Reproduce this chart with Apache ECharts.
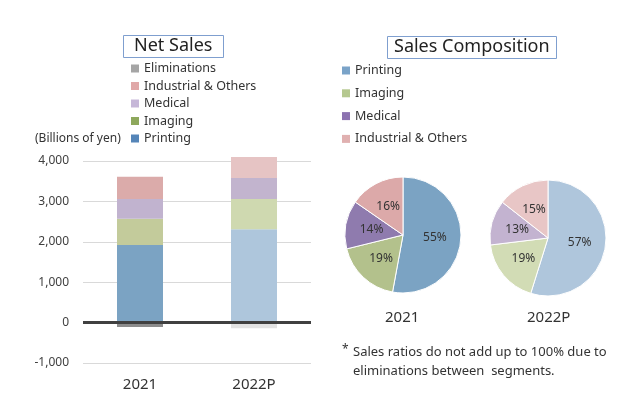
<!DOCTYPE html>
<html><head><meta charset="utf-8">
<script src="https://cdn.jsdelivr.net/npm/echarts@6/dist/echarts.min.js"></script>
<style>html,body{margin:0;padding:0;background:#fff}#c{width:640px;height:419px}</style>
</head><body><div id="c"></div>
<script>
var categories = ['2021', '2022P'];
var printing = [1920, 2310];
var imaging = [650, 750];
var medical = [490, 520];
var industrial = [550, 520];
var eliminations = [-110, -140];
var pieNames = ['Printing', 'Imaging', 'Medical', 'Industrial & Others'];
var pie2021 = [55, 19, 14, 16];
var pie2022 = [57, 19, 13, 15];
var yTicks = [-1000, 0, 1000, 2000, 3000, 4000];

var FONT = 'Noto Sans';
var barColors = {
  'Printing': ['#7BA3C3', '#AEC6DC'],
  'Imaging': ['#C3CB9B', '#CFD9B0'],
  'Medical': ['#C1B3CF', '#C2B4CE'],
  'Industrial & Others': ['#DBABAA', '#E6C4C4'],
  'Eliminations': ['#8C8C8C', '#E2E2E2']
};
var legendBarColors = {
  'Eliminations': '#A5A5A5', 'Industrial & Others': '#E0A8A8', 'Medical': '#C6B7D8',
  'Imaging': '#8EA85C', 'Printing': '#5585B8'
};
var pieColors2021 = ['#7BA3C3', '#B3C18C', '#8F7BAE', '#DCA9A9'];
var pieColors2022 = ['#AFC6DC', '#D2DCB5', '#C3B3D0', '#E8C6C6'];
var legendPieColors = ['#7AA3C8', '#B5C88F', '#8C72B0', '#E0B0B0'];

function barSeries(name, vals) {
  return {
    name: name, type: 'bar', stack: 'total', barWidth: 46, clip: false,
    itemStyle: { color: legendBarColors[name] },
    data: vals.map(function (v, i) { return { value: v, itemStyle: { color: barColors[name][i] } }; })
  };
}
function pieSeries(vals, colors, center) {
  return {
    type: 'pie', center: center, radius: 58, startAngle: 90, clockwise: true,
    avoidLabelOverlap: false,
    itemStyle: { borderColor: '#fff', borderWidth: 1 },
    label: { position: 'inside', formatter: '{c}%', fontFamily: FONT, fontSize: 12, color: '#333' },
    labelLine: { show: false },
    emphasis: { disabled: true },
    data: vals.map(function (v, i) { return { name: pieNames[i], value: v, itemStyle: { color: colors[i] } }; })
  };
}

var series = [
  barSeries('Printing', printing),
  barSeries('Imaging', imaging),
  barSeries('Medical', medical),
  barSeries('Industrial & Others', industrial),
  barSeries('Eliminations', eliminations),
  pieSeries(pie2021, pieColors2021, [403, 235]),
  pieSeries(pie2022, pieColors2022, [548, 238])
];
series[0].markLine = {
  silent: true, symbol: 'none', label: { show: false },
  lineStyle: { color: '#404040', width: 3, type: 'solid' },
  data: [{ yAxis: 0 }]
};

var chart = echarts.init(document.getElementById('c'), null, { renderer: 'canvas' });
chart.setOption({
  animation: false,
  backgroundColor: '#fff',
  title: [
    { text: 'Net Sales', left: 123, top: 35, padding: [2, 11, 3, 11], borderColor: '#7F9FCF', borderWidth: 1,
      textStyle: { fontFamily: FONT, fontSize: 18, fontWeight: 'normal', color: '#222' } },
    { text: 'Sales Composition', left: 387, top: 36, padding: [2, 7, 3, 7], borderColor: '#7F9FCF', borderWidth: 1,
      textStyle: { fontFamily: FONT, fontSize: 18, fontWeight: 'normal', color: '#222' } }
  ],
  legend: [
    { orient: 'vertical', left: 131, top: 62, padding: 0, itemWidth: 8, itemHeight: 8, itemGap: 4.5, icon: 'rect', selectedMode: false,
      textStyle: { fontFamily: FONT, fontSize: 12.5, color: '#333' },
      data: ['Eliminations', 'Industrial & Others', 'Medical', 'Imaging', 'Printing'].map(function (n) {
        return { name: n, itemStyle: { color: legendBarColors[n] } };
      }) },
    { orient: 'vertical', left: 342, top: 64, padding: 0, itemWidth: 8, itemHeight: 8, itemGap: 9.8, icon: 'rect', selectedMode: false,
      textStyle: { fontFamily: FONT, fontSize: 12.5, color: '#333' },
      data: pieNames.map(function (n, i) { return { name: n, itemStyle: { color: legendPieColors[i] } }; }) }
  ],
  grid: { left: 83, right: 329, top: 161, bottom: 56 },
  xAxis: {
    type: 'category', data: categories,
    axisLine: { show: false }, axisTick: { show: false },
    axisLabel: { margin: 14, fontFamily: FONT, fontSize: 15, color: '#333' }
  },
  yAxis: {
    type: 'value', min: yTicks[0], max: yTicks[yTicks.length - 1], interval: 1000,
    axisLine: { show: false }, axisTick: { show: false },
    axisLabel: { margin: 14, fontFamily: FONT, fontSize: 12, color: '#404040' },
    splitLine: { lineStyle: { color: '#D9D9D9', width: 1 } }
  },
  graphic: [
    { type: 'text', left: 35, top: 133, style: { text: '(Billions of yen)', fontFamily: FONT, fontSize: 12, fill: '#333' } },
    { type: 'text', left: 385, top: 310, style: { text: '2021', fontFamily: FONT, fontSize: 15, fill: '#333' } },
    { type: 'text', left: 527, top: 310, style: { text: '2022P', fontFamily: FONT, fontSize: 15, fill: '#333' } },
    { type: 'text', left: 342, top: 344, style: { text: '*', fontFamily: FONT, fontSize: 12, fill: '#333' } },
    { type: 'text', left: 353, top: 346, style: { text: 'Sales ratios do not add up to 100% due to', fontFamily: FONT, fontSize: 13, fill: '#333' } },
    { type: 'text', left: 353, top: 365, style: { text: 'eliminations between  segments.', fontFamily: FONT, fontSize: 13, fill: '#333' } }
  ],
  series: series
});
</script></body></html>
